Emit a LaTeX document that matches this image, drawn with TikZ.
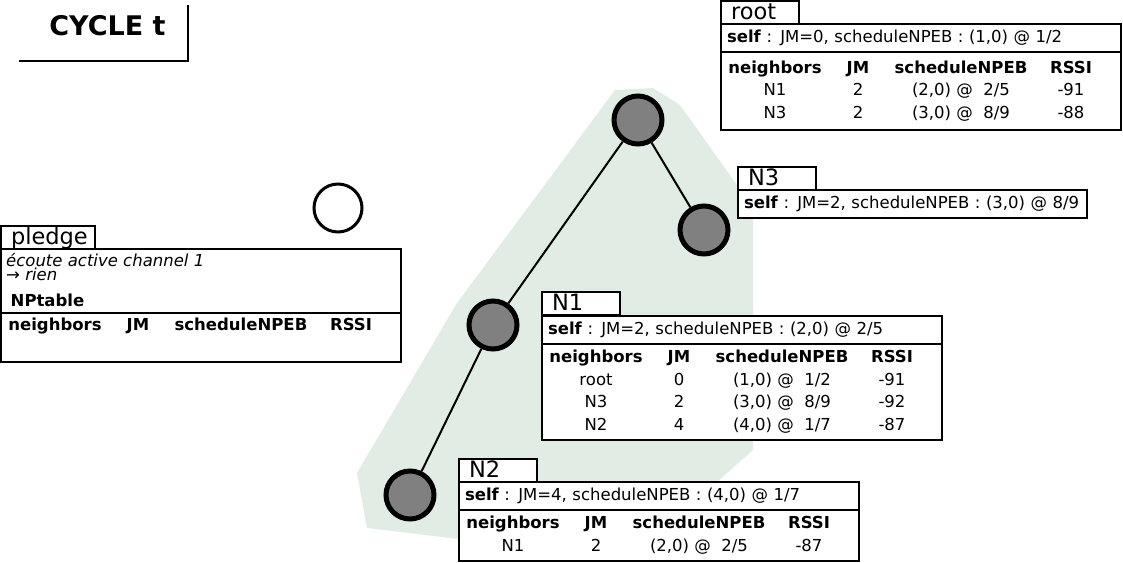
\documentclass[tikz,border=0pt]{standalone}
\usepackage{fontspec}
\setmainfont{DejaVu Sans}
\usepackage{array}
\usetikzlibrary{positioning}
\newcolumntype{C}[1]{>{\centering\arraybackslash}p{#1}}
\setlength{\tabcolsep}{0pt}
\definecolor{moteGray}{RGB}{128,128,128}
\definecolor{zoneGreen}{RGB}{224,236,228}
\newcommand{\npheader}{\textbf{neighbors} & \textbf{JM} & \textbf{scheduleNPEB} & \textbf{RSSI}}
\newcommand{\nptable}[1]{\begin{tabular}{@{}C{108pt}C{58pt}C{148pt}C{72pt}@{\hspace{14pt}}}\npheader\\#1\end{tabular}}
\tikzstyle{mote} = [circle, minimum size=48pt, inner sep=0pt, draw=black, line width=5pt, fill=moteGray]
\tikzstyle{newmote} = [circle, minimum size=48pt, inner sep=0pt, draw=black, line width=3pt, fill=white]
\tikzstyle{link} = [line width=2pt]
\tikzstyle{box} = [rectangle, draw=black, line width=1.6pt, outer sep=0pt, fill=white]
\tikzstyle{tab} = [box, minimum width=78pt, minimum height=23pt, text width=58pt, inner xsep=10pt, inner ysep=1pt, text height=17pt, text depth=4pt, align=left, font=\fontsize{22.5}{22.5}\selectfont]
\tikzstyle{selfrow} = [box, minimum height=28pt, text width=388pt, inner xsep=6pt, align=left, font=\fontsize{16.5}{19}\selectfont]
\tikzstyle{nptab} = [box, minimum width=400pt, inner sep=0pt, font=\fontsize{16.5}{22.5}\selectfont]
\tikzstyle{note} = [inner sep=0pt, align=left, font=\fontsize{16.5}{13.5}\selectfont\itshape]

\begin{document}
\begin{tikzpicture}[x=1pt, y=-1pt]
\useasboundingbox (0,0) rectangle (1123,562);

% title
\node (cycleTitle) [font=\fontsize{27}{27}\selectfont\bfseries] at (107.5,26) {CYCLE t};
\coordinate (titleLeft) at (19,61);
\coordinate (titleTop) at (188,5);
\draw [line width=2pt] (titleLeft) -| (titleTop);

% DODAG zone
\fill [zoneGreen] (615,90) -- (653,88) -- (680,105) -- (737,185) -- (753,215) -- (753,450) -- (717,482) -- (459,539) -- (367,528) -- (357,473) -- (457,303) -- cycle;

% motes
\node (root) [mote] at (638,120) {};
\node (n3) [mote] at (704,230) {};
\node (n1) [mote] at (493,325) {};
\node (n2) [mote] at (410,495) {};
\node (pledge) [newmote] at (338,208) {};

\draw [link] (root) -- (n1);
\draw [link] (root) -- (n3);
\draw [link] (n1) -- (n2);

% root
\node (rootTab) [tab, anchor=north west] at (721,1) {root};
\node (rootSelf) [selfrow, below=0pt of rootTab.south west, anchor=north west] {\textbf{self} : JM=0, scheduleNPEB : (1,0) @ 1/2};
\node (rootTable) [nptab, minimum height=78pt, below=0pt of rootSelf.south west, anchor=north west] {\nptable{N1 & 2 & (2,0) @~ 2/5 & -91\\ N3 & 2 & (3,0) @~ 8/9 & -88}};

% N3
\node (n3Tab) [tab, anchor=north west] at (738,167) {N3};
\node (n3Self) [selfrow, text width=337pt, below=0pt of n3Tab.south west, anchor=north west] {\textbf{self} : JM=2, scheduleNPEB : (3,0) @ 8/9};

% N1
\node (n1Tab) [tab, anchor=north west] at (542,292) {N1};
\node (n1Self) [selfrow, below=1pt of n1Tab.south west, anchor=north west] {\textbf{self} : JM=2, scheduleNPEB : (2,0) @ 2/5};
\node (n1Table) [nptab, minimum height=96pt, below=0pt of n1Self.south west, anchor=north west] {\nptable{root & 0 & (1,0) @~ 1/2 & -91\\ N3 & 2 & (3,0) @~ 8/9 & -92\\ N2 & 4 & (4,0) @~ 1/7 & -87}};

% N2
\node (n2Tab) [tab, anchor=north west] at (459,459) {N2};
\node (n2Self) [selfrow, below=0pt of n2Tab.south west, anchor=north west] {\textbf{self} : JM=4, scheduleNPEB : (4,0) @ 1/7};
\node (n2Table) [nptab, minimum height=51pt, below=0pt of n2Self.south west, anchor=north west] {\nptable{N1 & 2 & (2,0) @~ 2/5 & -87}};

% pledge
\node (pledgeTab) [tab, minimum width=94pt, text width=74pt, anchor=north west] at (1,226) {pledge};
\node (pledgeInfo) [box, minimum width=400pt, minimum height=64pt, below=0pt of pledgeTab.south west, anchor=north west] {};
\node (pledgeNote) [note, below right=4.5pt and 5pt of pledgeInfo.north west] {écoute active channel 1\\→ rien};
\node (pledgeNP) [inner sep=0pt, font=\fontsize{16.5}{19}\selectfont\bfseries, below right=44.5pt and 9.5pt of pledgeInfo.north west] {NPtable};
\node (pledgeTable) [nptab, minimum height=49pt, below=0pt of pledgeInfo.south west, anchor=north west] {\nptable{ & & & }};

\end{tikzpicture}
\end{document}
